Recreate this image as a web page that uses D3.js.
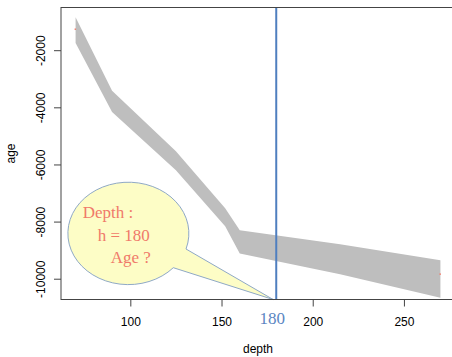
<!DOCTYPE html>
<html>
<head>
<meta charset="utf-8">
<script src="https://cdn.jsdelivr.net/npm/d3@7"></script>
<style>
html,body{margin:0;padding:0;background:#fff;}
svg{display:block;}
</style>
</head>
<body>
<svg id="chart" width="452" height="357"></svg>
<script>
// ---- data ----
const depths   = [70, 90, 125, 152, 160, 215, 270];
const ageUpper = [-845, -3420, -5540, -7530, -8300, -8790, -9350];
const ageLower = [-1745, -4160, -6200, -8160, -9115, -9840, -10670];
const markDepths = [70, 270];
const markAges = [-1265, -9840];
const xTicks = [100, 150, 200, 250];
const yTicks = [-2000, -4000, -6000, -8000, -10000];
const queryDepth = 180;
const bubbleLines = ["Depth :", "h = 180", "Age ?"];
const xLabel = "depth", yLabel = "age";

// ---- layout ----
const L = 61, T = 7.5, R = 455, B = 299.5;
const svg = d3.select("#chart");
const x = d3.scaleLinear().domain([62, 278]).range([L, R]);
const y = d3.scaleLinear().domain([-10728, -505]).range([B, T]);

const band = depths.map((d, i) => ({d, hi: ageUpper[i], lo: ageLower[i]}));

// gray band
svg.append("path")
  .datum(band)
  .attr("fill", "#bebebe")
  .attr("d", d3.area().x(p => x(p.d)).y0(p => y(p.lo)).y1(p => y(p.hi)));

// red marks
svg.selectAll("rect.mark").data(markDepths).enter().append("rect")
  .attr("class", "mark")
  .attr("x", (d) => x(d) - 1).attr("y", (d, i) => y(markAges[i]) - 0.75)
  .attr("width", 1.5).attr("height", 1.5).attr("fill", "#f08070");

// speech bubble
const cx = 127.8, cy = 234.5, rx = 60.5, ry = 51.2;
const tip = [x(178.3), B];
const A = [186, 249], Bp = [173.3, 267.7];
svg.append("path")
  .attr("d", `M${A[0]},${A[1]} L${tip[0]},${tip[1]} L${Bp[0]},${Bp[1]} A${rx},${ry} 0 1 1 ${A[0]},${A[1]} Z`)
  .attr("fill", "#fdfdc6").attr("stroke", "#8fa9c6").attr("stroke-width", 1);

const bt = svg.append("g").attr("font-family", "'Liberation Serif', serif")
  .attr("font-size", 17).attr("fill", "#f07a6a");
const offs = [82.7, 97.7, 110.7];
bubbleLines.forEach((s, i) => {
  bt.append("text").attr("x", offs[i]).attr("y", 218.3 + i * 22.2).text(s);
});

// vertical line
svg.append("line")
  .attr("x1", x(queryDepth)).attr("x2", x(queryDepth))
  .attr("y1", T).attr("y2", B)
  .attr("stroke", "#4f7fbf").attr("stroke-width", 2);

// box
svg.append("rect").attr("x", L).attr("y", T).attr("width", R - L).attr("height", B - T)
  .attr("fill", "none").attr("stroke", "#444").attr("stroke-width", 1);

const axisFont = "'Liberation Sans', Arial, sans-serif";
// x axis
const xa = svg.append("g").attr("transform", `translate(0,${B})`)
  .call(d3.axisBottom(x).tickValues(xTicks).tickSize(7).tickPadding(0).tickFormat(d => String(d)));
xa.select(".domain").remove();
xa.selectAll("line").attr("stroke", "#444");
xa.selectAll("text").attr("font-family", axisFont).attr("font-size", 12).attr("fill", "#000")
  .attr("dy", null).attr("y", 26.5);

// y axis
const ya = svg.append("g").attr("transform", `translate(${L},0)`)
  .call(d3.axisLeft(y).tickValues(yTicks).tickSize(7).tickFormat(d => String(d)));
ya.select(".domain").remove();
ya.selectAll("line").attr("stroke", "#444");
ya.selectAll("text").attr("font-family", axisFont).attr("font-size", 12).attr("fill", "#000")
  .attr("x", null).attr("dy", null).attr("text-anchor", "middle")
  .attr("transform", "translate(-16,0) rotate(-90)");

// axis labels
svg.append("text").attr("x", (L + R) / 2).attr("y", 353)
  .attr("text-anchor", "middle").attr("font-family", axisFont).attr("font-size", 12).text(xLabel);
svg.append("text").attr("transform", `translate(14.5,${(T + B) / 2}) rotate(-90)`)
  .attr("text-anchor", "middle").attr("font-family", axisFont).attr("font-size", 12).text(yLabel);

// 180 label
svg.append("text").attr("x", x(queryDepth) - 4).attr("y", 324)
  .attr("text-anchor", "middle").attr("font-family", "'Liberation Serif', serif")
  .attr("font-size", 17).attr("fill", "#5b86c2").text(String(queryDepth));
</script>
</body>
</html>
